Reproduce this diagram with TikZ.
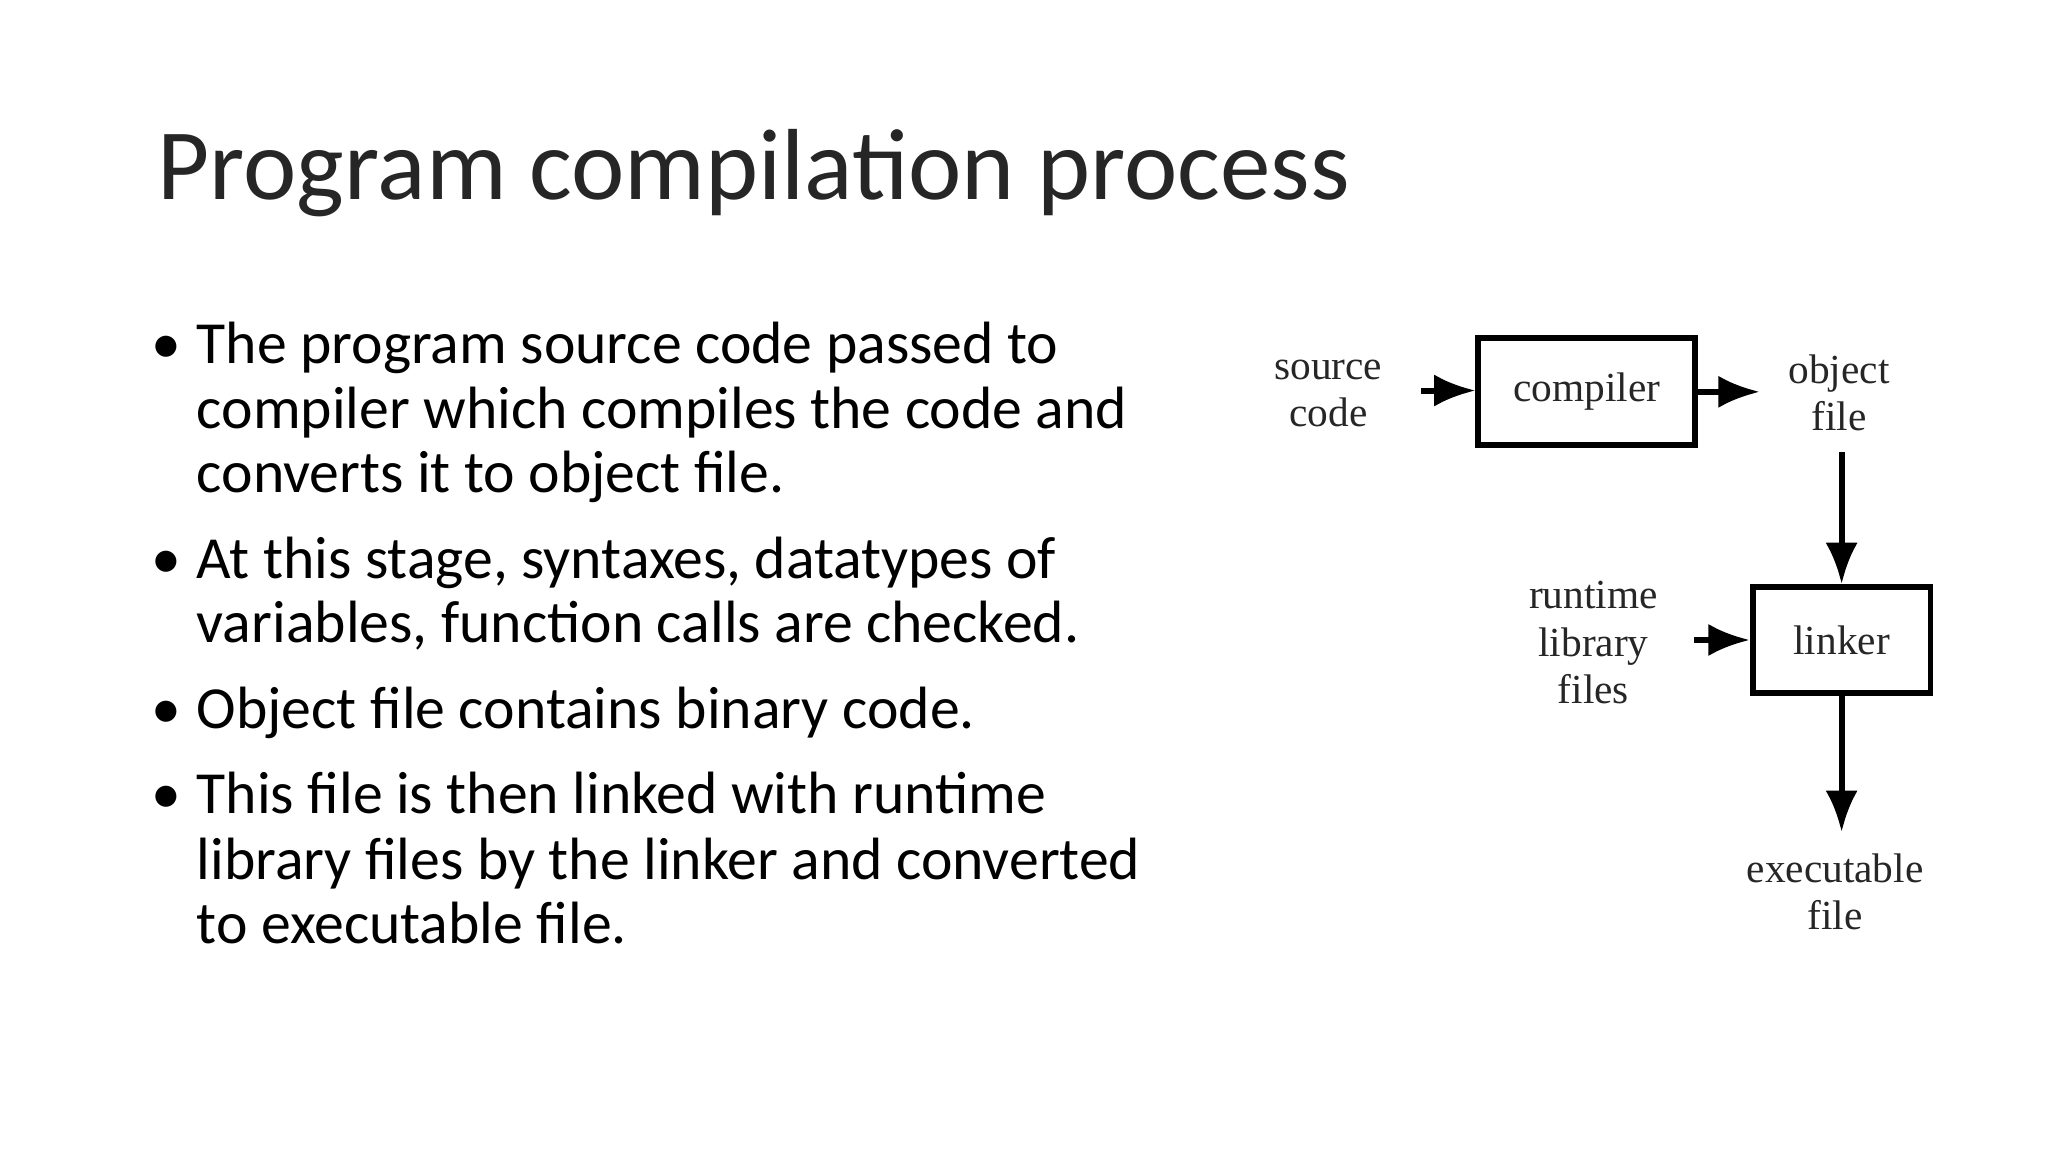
\documentclass[tikz,border=0pt]{standalone}
\usepackage{fontspec}
\setmainfont{Carlito}
\newfontfamily\serifd{Liberation Serif}
\usetikzlibrary{arrows.meta}
\begin{document}
\begin{tikzpicture}[x=0.01cm,y=-0.01cm,
  ln/.style={anchor=base west,inner sep=0pt,font=\fontsize{13pt}{15pt}\selectfont},
  bl/.style={anchor=base,inner sep=0pt,font=\fontsize{13pt}{15pt}\selectfont},
  dt/.style={font=\serifd\fontsize{9pt}{10.3pt}\selectfont,align=center,inner sep=0pt,text=black!85},
  bx/.style={draw,line width=1.3pt,inner sep=0pt},
  ar/.style={-{Latex[length=9pt,width=7pt]},line width=1.3pt}]
\useasboundingbox (0,0) rectangle (1568,882);
\node[anchor=base west,inner sep=0pt,font=\fontsize{22pt}{26pt}\selectfont,text=black!85] (title) at (120,153) {Program compilation process};
\node[bl] (b1) at (127,278) {•};
\node[ln] (l1) at (150,278) {The program source code passed to};
\node[ln] (l2) at (150,328) {compiler which compiles the code and};
\node[ln] (l3) at (150,377) {converts it to object file.};
\node[bl] (b2) at (127,443) {•};
\node[ln] (l4) at (150,443) {At this stage, syntaxes, datatypes of};
\node[ln] (l5) at (150,492) {variables, function calls are checked.};
\node[bl] (b3) at (127,558) {•};
\node[ln] (l6) at (150,558) {Object file contains binary code.};
\node[bl] (b4) at (127,623) {•};
\node[ln] (l7) at (150,623) {This file is then linked with runtime};
\node[ln] (l8) at (150,673) {library files by the linker and converted};
\node[ln] (l9) at (150,722) {to executable file.};
% diagram
\node[bx,minimum width=1.66cm,minimum height=0.82cm,dt] (comp) at (1215,300) {compiler};
\node[bx,minimum width=1.36cm,minimum height=0.81cm,dt] (link) at (1410,490) {linker};
\node[dt] (src) at (1017,301) {source\\code};
\node[dt] (obj) at (1408,301) {object\\file};
\node[dt] (rt) at (1220,492) {runtime\\library\\files};
\node[dt] (exe) at (1405,683) {executable\\file};
\coordinate (s1) at (1088,299);
\coordinate (o1) at (1410,346);
\coordinate (r1) at (1297,490);
\coordinate (e1) at (1410,637);
\draw[ar] (s1) -- (s1-|comp.west);
\draw[ar] (comp.east) -- ++(47,0);
\draw[ar] (o1) -- (o1|-link.north);
\draw[ar] (r1) -- (r1-|link.west);
\draw[ar] (link.south-|e1) -- (e1);
\end{tikzpicture}
\end{document}
